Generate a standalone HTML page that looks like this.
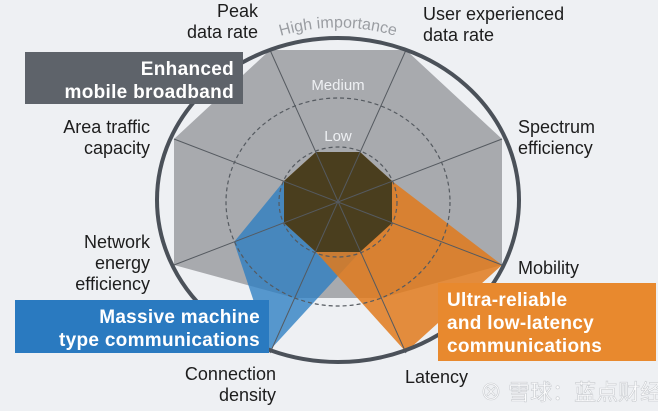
<!DOCTYPE html>
<html><head><meta charset="utf-8"><style>
html,body{margin:0;padding:0;background:#eef0f3;}
svg{display:block;}
.l{font-family:"Liberation Sans Narrow","Liberation Sans",sans-serif;font-size:18px;fill:#1d1d1d;}
.b{font-family:"Liberation Sans",sans-serif;font-weight:bold;font-size:19px;fill:#fff;letter-spacing:0.3px;}
</style></head><body>
<svg width="658" height="411" viewBox="0 0 658 411" xmlns="http://www.w3.org/2000/svg">
<rect width="658" height="411" fill="#eef0f3"/>
<defs><path id="arc" d="M268,40 Q338,15 408,40"/></defs>
<!-- gray eMBB -->
<polygon points="270,50 406,50 502,139 502,265 381,298 295,298 174,265 174,139" fill="#a8aaae"/>
<!-- blue mMTC -->
<polygon points="316,152 360,152 392,181 392,223 360,252 270,350 234,242 284,181" fill="#2c7ec2" fill-opacity="0.78"/>
<!-- orange URLLC -->
<polygon points="316,152 360,152 392,181 502,265 406,352 316,252 284,223 284,181" fill="#e07a1c" fill-opacity="0.85"/>
<!-- dark low octagon -->
<polygon points="316,152 360,152 392,181 392,223 360,252 316,252 284,223 284,181" fill="#4a3e1e"/>
<!-- dashed rings -->
<ellipse cx="338" cy="202" rx="112" ry="104" fill="none" stroke="#555a60" stroke-width="1.2" stroke-dasharray="4,3"/>
<ellipse cx="338" cy="202" rx="59" ry="55" fill="none" stroke="#555a60" stroke-width="1.2" stroke-dasharray="4,3"/>
<!-- spokes -->
<g stroke="#555a60" stroke-width="1">
<line x1="270" y1="50" x2="406" y2="353"/>
<line x1="406" y1="50" x2="270" y2="353"/>
<line x1="502" y1="139" x2="174" y2="265"/>
<line x1="502" y1="265" x2="174" y2="139"/>
</g>
<!-- outer ring -->
<ellipse cx="338" cy="200" rx="181" ry="162" fill="none" stroke="#4b5159" stroke-width="4"/>
<!-- ring labels -->
<text font-family="Liberation Sans Narrow,Liberation Sans,sans-serif" font-size="16" fill="#9a9da2"><textPath href="#arc" startOffset="50%" text-anchor="middle">High importance</textPath></text>
<text x="338" y="90" text-anchor="middle" font-family="Liberation Sans Narrow,Liberation Sans,sans-serif" font-size="15" fill="#eef0f3">Medium</text>
<text x="338" y="141" text-anchor="middle" font-family="Liberation Sans Narrow,Liberation Sans,sans-serif" font-size="15" fill="#eef0f3">Low</text>
<!-- axis labels -->
<text class="l" text-anchor="end"><tspan x="258" y="17">Peak</tspan><tspan x="258" y="38">data rate</tspan></text>
<text class="l"><tspan x="423" y="20">User experienced</tspan><tspan x="423" y="41">data rate</tspan></text>
<text class="l"><tspan x="518" y="133">Spectrum</tspan><tspan x="518" y="154">efficiency</tspan></text>
<text class="l" x="518" y="274">Mobility</text>
<text class="l" x="405" y="383">Latency</text>
<text class="l" text-anchor="end"><tspan x="276" y="380">Connection</tspan><tspan x="276" y="401">density</tspan></text>
<text class="l" text-anchor="end"><tspan x="150" y="248">Network</tspan><tspan x="150" y="269">energy</tspan><tspan x="150" y="290">efficiency</tspan></text>
<text class="l" text-anchor="end"><tspan x="150" y="133">Area traffic</tspan><tspan x="150" y="154">capacity</tspan></text>
<!-- boxes -->
<rect x="25" y="52" width="218" height="52" fill="#5e636a"/>
<text class="b" text-anchor="end"><tspan x="234" y="75">Enhanced</tspan><tspan x="234" y="98">mobile broadband</tspan></text>
<rect x="15" y="300" width="254" height="53" fill="#2a7ac0"/>
<text class="b" text-anchor="end"><tspan x="260" y="323">Massive machine</tspan><tspan x="260" y="346">type communications</tspan></text>
<rect x="438" y="283" width="218" height="78" fill="#e8892e"/>
<text class="b" fill="#fdf0e0"><tspan x="447" y="306">Ultra-reliable</tspan><tspan x="447" y="329">and low-latency</tspan><tspan x="447" y="352">communications</tspan></text>
<!-- watermark -->
<text x="480" y="400" font-family="Liberation Sans,Noto Sans CJK SC,sans-serif" font-size="22" fill="#ffffff" fill-opacity="0.85" stroke="#c9ccd0" stroke-width="0.6">⊗ 雪球：蓝点财经</text>
</svg>
</body></html>
